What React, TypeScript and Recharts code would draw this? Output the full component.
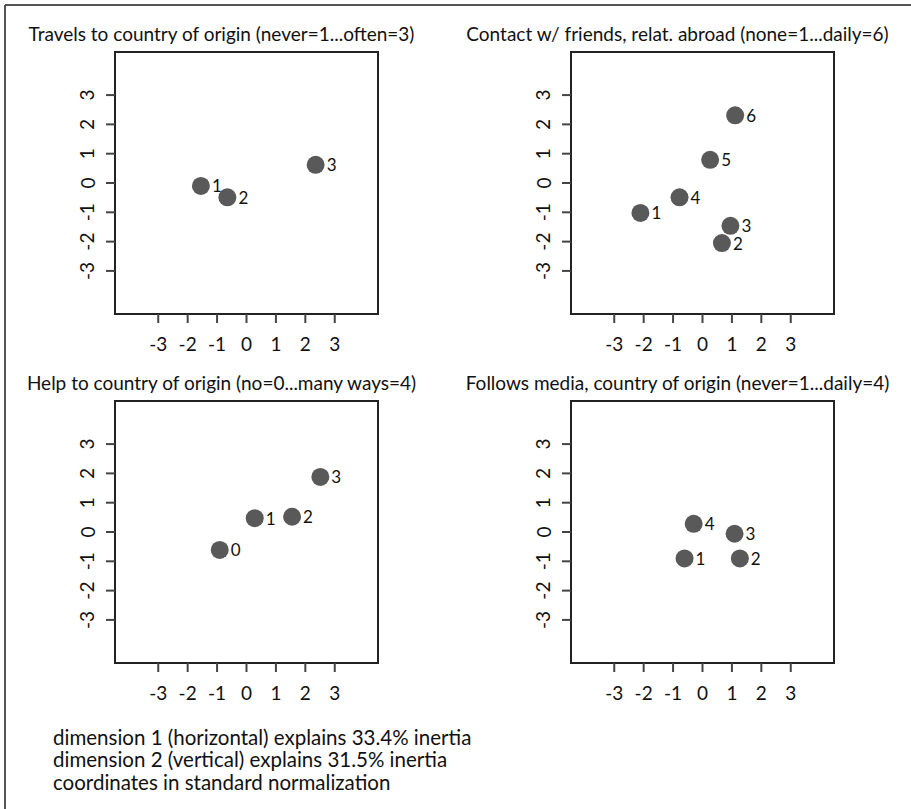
import type { FC } from 'react';
import { ReferenceArea, Scatter, ScatterChart, XAxis, YAxis } from 'recharts';

const FONT = 'Lato, "Noto Sans", sans-serif';

const titles = [
  'Travels to country of origin (never=1...often=3)',
  'Contact w/ friends, relat. abroad (none=1...daily=6)',
  'Help to country of origin (no=0...many ways=4)',
  'Follows media, country of origin (never=1...daily=4)',
];

const notes = [
  'dimension 1 (horizontal) explains 33.4% inertia',
  'dimension 2 (vertical) explains 31.5% inertia',
  'coordinates in standard normalization',
];

const axisTicks = [-3, -2, -1, 0, 1, 2, 3];
const axisDomain: [number, number] = [-4.47, 4.47];

const travelsLabels = ['1', '2', '3'];
const travelsX = [-1.55, -0.65, 2.35];
const travelsY = [-0.1, -0.49, 0.62];

const contactLabels = ['1', '2', '3', '4', '5', '6'];
const contactX = [-2.11, 0.66, 0.95, -0.78, 0.26, 1.11];
const contactY = [-1.02, -2.05, -1.46, -0.49, 0.79, 2.31];

const helpLabels = ['0', '1', '2', '3'];
const helpX = [-0.91, 0.28, 1.55, 2.51];
const helpY = [-0.61, 0.47, 0.52, 1.88];

const mediaLabels = ['1', '2', '3', '4'];
const mediaX = [-0.61, 1.27, 1.09, -0.3];
const mediaY = [-0.9, -0.9, -0.06, 0.28];

const toPoints = (labels: string[], xs: number[], ys: number[]) =>
  labels.map((label, i) => ({ label, x: xs[i], y: ys[i] }));

const panels = [
  { title: titles[0], data: toPoints(travelsLabels, travelsX, travelsY), left: 0, top: 0 },
  { title: titles[1], data: toPoints(contactLabels, contactX, contactY), left: 456, top: 0 },
  { title: titles[2], data: toPoints(helpLabels, helpX, helpY), left: 0, top: 349 },
  { title: titles[3], data: toPoints(mediaLabels, mediaX, mediaY), left: 456, top: 349 },
];

const PointShape = (props: any) => {
  const { cx, cy, payload } = props;
  return (
    <g>
      <circle cx={cx} cy={cy} r={9} fill="#595959" />
      <text
        x={cx + 11}
        y={cy}
        dominantBaseline="central"
        fontFamily={FONT}
        fontSize={17}
        fill="#111"
      >
        {payload.label}
      </text>
    </g>
  );
};

const XTick = (props: any) => {
  const { x, y, payload } = props;
  return (
    <text x={x} y={y} textAnchor="middle" dominantBaseline="central" fontFamily={FONT} fontSize={19} fill="#111">
      {payload.value}
    </text>
  );
};

const YTick = (props: any) => {
  const { x, y, payload } = props;
  return (
    <text
      x={x}
      y={y}
      textAnchor="middle"
      dominantBaseline="central"
      transform={`rotate(-90, ${x}, ${y})`}
      fontFamily={FONT}
      fontSize={19}
      fill="#111"
    >
      {payload.value}
    </text>
  );
};

type PanelProps = { data: { label: string; x: number; y: number }[] };

const Panel: FC<PanelProps> = ({ data }) => (
  <ScatterChart width={420} height={370} margin={{ top: 52, right: 42, bottom: 16, left: 75 }}>
    <XAxis
      type="number"
      dataKey="x"
      domain={axisDomain}
      ticks={axisTicks}
      allowDataOverflow
      axisLine={false}
      tickLine={{ stroke: '#444', strokeWidth: 2 }}
      tickSize={9}
      tickMargin={20}
      height={40}
      tick={<XTick />}
    />
    <YAxis
      type="number"
      dataKey="y"
      domain={axisDomain}
      ticks={axisTicks}
      allowDataOverflow
      axisLine={false}
      tickLine={{ stroke: '#444', strokeWidth: 2 }}
      tickSize={9}
      tickMargin={19}
      width={40}
      tick={<YTick />}
    />
    <ReferenceArea
      x1={axisDomain[0]}
      x2={axisDomain[1]}
      y1={axisDomain[0]}
      y2={axisDomain[1]}
      fill="none"
      stroke="#222"
      strokeWidth={2}
      ifOverflow="visible"
    />
    <Scatter data={data} shape={<PointShape />} isAnimationActive={false} />
  </ScatterChart>
);

const App: FC = () => (
  <div style={{ position: 'absolute', left: 0, top: 0, width: 911, height: 809, background: '#fff' }}>
    <svg width={911} height={809} style={{ position: 'absolute', left: 0, top: 0 }}>
      <line x1={5} y1={5} x2={911} y2={5} stroke="#555" strokeWidth={2} />
      <line x1={5} y1={5} x2={5} y2={809} stroke="#555" strokeWidth={2} />
      {panels.map((p) => (
        <text
          key={p.title}
          x={p.left + 221.5}
          y={p.top + 41}
          textAnchor="middle"
          fontFamily={FONT}
          fontSize={19}
          fill="#111"
        >
          {p.title}
        </text>
      ))}
      {notes.map((n, i) => (
        <text key={n} x={53} y={745 + i * 22.3} fontFamily={FONT} fontSize={20.5} fill="#111">
          {n}
        </text>
      ))}
    </svg>
    {panels.map((p) => (
      <div key={p.title} style={{ position: 'absolute', left: p.left, top: p.top }}>
        <Panel data={p.data} />
      </div>
    ))}
  </div>
);

export default App;
